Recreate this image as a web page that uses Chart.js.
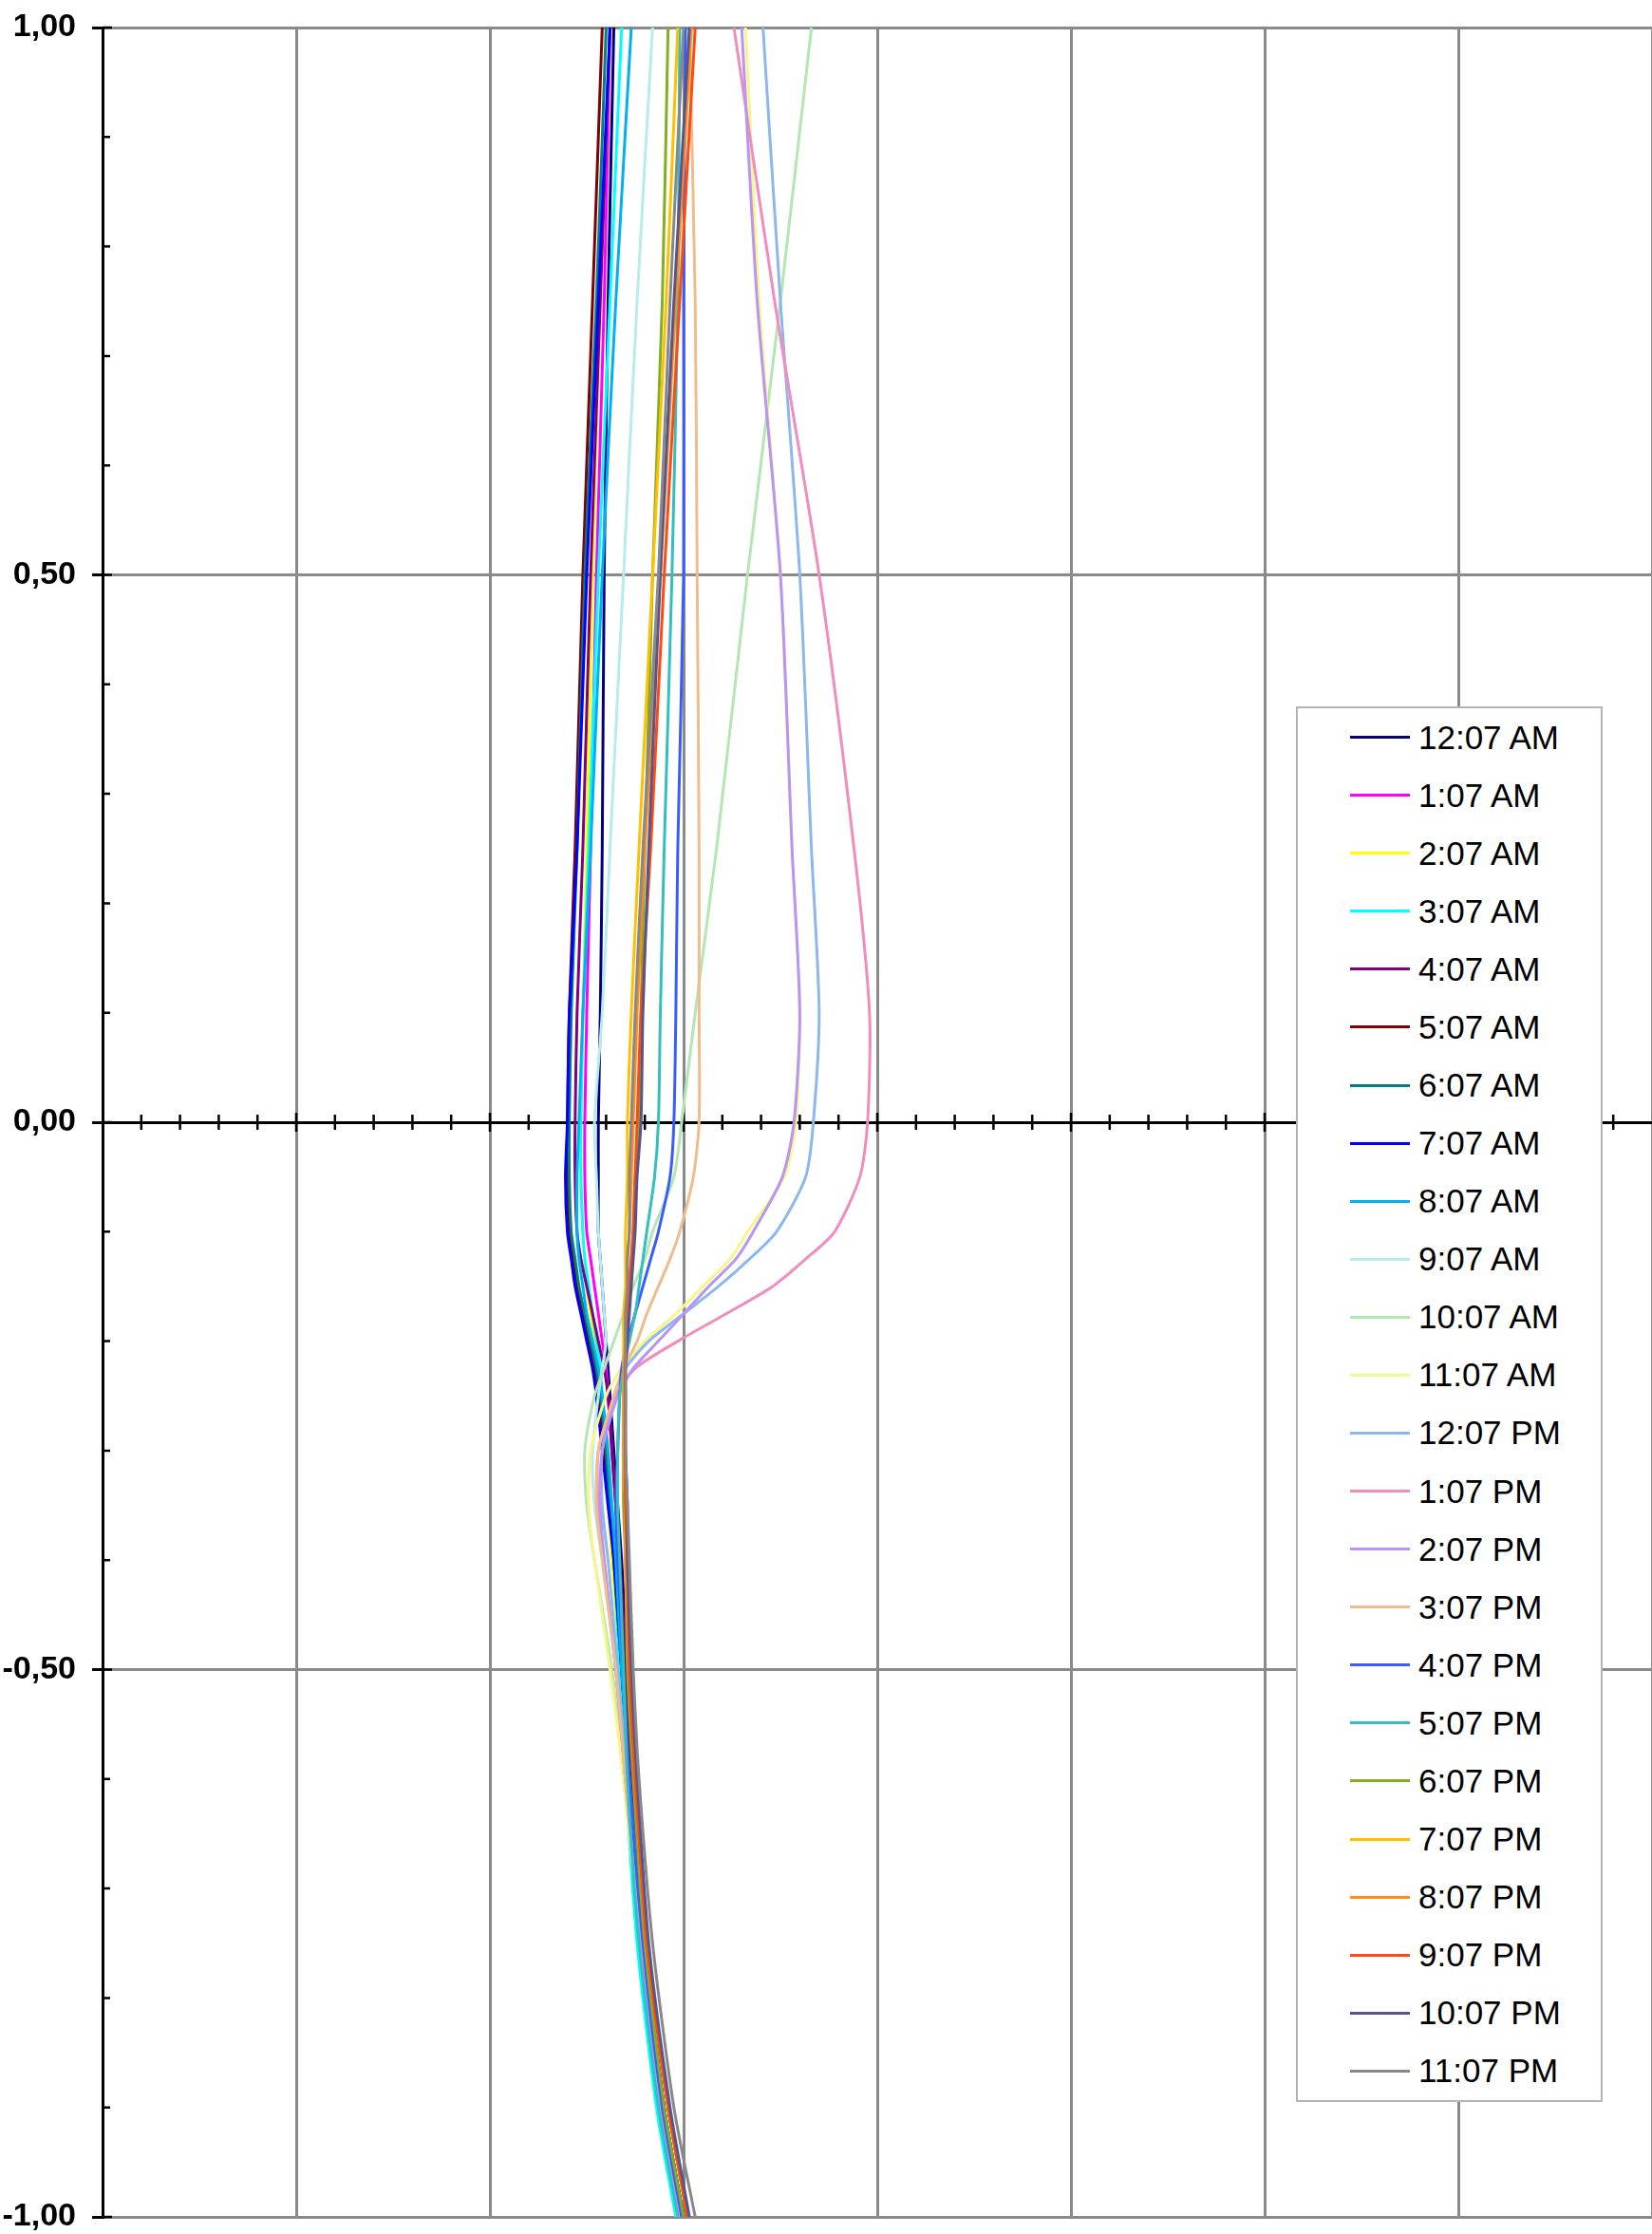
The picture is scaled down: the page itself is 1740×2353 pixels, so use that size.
<!DOCTYPE html>
<html>
<head>
<meta charset="utf-8">
<script src="https://cdn.jsdelivr.net/npm/chart.js@4.4.1/dist/chart.umd.min.js"></script>
<style>
  html, body { margin: 0; padding: 0; background: #fff; }
  #wrap { position: relative; width: 1740px; height: 2353px; }
  #legend {
    position: absolute; left: 1365px; top: 744px;
    width: 319px; height: 1466px;
    background: #fff; border: 2px solid #b4b4b4;
    font-family: "Liberation Sans", Arial, sans-serif; font-size: 35px; color: #000;
  }
  .row { height: 61.08px; display: flex; align-items: center; }
  .swatch { margin-left: 55px; width: 63px; height: 3px; margin-right: 9px; }
</style>
</head>
<body>
<div id="wrap">
  <canvas id="chart" width="1740" height="2353"></canvas>
  <div id="legend"></div>
</div>
<script>
// --- Data (x, one grid step = 1) ---
const yLevels = [1, 0.75, 0.5, 0.25, 0.1, 0, -0.05, -0.1, -0.125, -0.15, -0.175, -0.2, -0.225, -0.25, -0.3, -0.35, -0.4, -0.5, -0.6, -0.75, -0.9, -1];

const am1207 = [2.64, 2.61, 2.59, 2.58, 2.57, 2.56, 2.56, 2.56, 2.57, 2.58, 2.59, 2.60, 2.61, 2.62, 2.64, 2.66, 2.68, 2.71, 2.74, 2.80, 2.90, 3.00];
const am0107 = [2.62, 2.59, 2.55, 2.52, 2.50, 2.49, 2.49, 2.50, 2.52, 2.54, 2.56, 2.58, 2.60, 2.61, 2.63, 2.65, 2.67, 2.70, 2.73, 2.79, 2.89, 2.99];
const am0207 = [2.62, 2.57, 2.53, 2.50, 2.48, 2.47, 2.47, 2.48, 2.49, 2.50, 2.52, 2.54, 2.56, 2.57, 2.59, 2.61, 2.63, 2.67, 2.71, 2.78, 2.88, 2.98];
const am0307 = [2.68, 2.62, 2.56, 2.51, 2.48, 2.47, 2.47, 2.48, 2.49, 2.51, 2.53, 2.55, 2.57, 2.58, 2.60, 2.62, 2.64, 2.67, 2.70, 2.76, 2.86, 2.96];
const am0407 = [2.62, 2.57, 2.52, 2.48, 2.45, 2.44, 2.44, 2.45, 2.47, 2.50, 2.53, 2.56, 2.59, 2.61, 2.63, 2.65, 2.67, 2.70, 2.73, 2.80, 2.90, 3.00];
const am0507 = [2.58, 2.53, 2.48, 2.44, 2.41, 2.40, 2.40, 2.41, 2.43, 2.45, 2.48, 2.51, 2.54, 2.56, 2.59, 2.62, 2.65, 2.69, 2.72, 2.79, 2.89, 2.99];
const am0607 = [2.60, 2.55, 2.49, 2.45, 2.42, 2.41, 2.41, 2.42, 2.44, 2.46, 2.49, 2.52, 2.55, 2.57, 2.60, 2.62, 2.64, 2.68, 2.72, 2.79, 2.89, 2.99];
const am0707 = [2.62, 2.56, 2.50, 2.45, 2.41, 2.40, 2.39, 2.40, 2.42, 2.44, 2.47, 2.50, 2.53, 2.55, 2.58, 2.61, 2.64, 2.68, 2.72, 2.79, 2.89, 2.99];
const am0807 = [2.73, 2.65, 2.58, 2.52, 2.48, 2.46, 2.45, 2.45, 2.46, 2.48, 2.50, 2.53, 2.56, 2.58, 2.61, 2.63, 2.65, 2.68, 2.72, 2.79, 2.89, 2.99];
const am0907 = [2.84, 2.76, 2.69, 2.62, 2.58, 2.54, 2.55, 2.56, 2.57, 2.58, 2.59, 2.60, 2.58, 2.56, 2.53, 2.54, 2.58, 2.65, 2.70, 2.78, 2.88, 2.98];
const am1007 = [3.66, 3.50, 3.33, 3.17, 3.06, 2.99, 2.95, 2.84, 2.80, 2.74, 2.69, 2.64, 2.59, 2.54, 2.49, 2.50, 2.54, 2.63, 2.69, 2.78, 2.88, 2.98];
const am1107 = [3.32, 3.39, 3.50, 3.56, 3.60, 3.58, 3.52, 3.33, 3.24, 3.10, 2.96, 2.80, 2.68, 2.60, 2.52, 2.51, 2.54, 2.62, 2.69, 2.78, 2.88, 2.97];
const pm1207 = [3.41, 3.50, 3.60, 3.66, 3.70, 3.67, 3.63, 3.48, 3.34, 3.18, 3.00, 2.82, 2.70, 2.64, 2.58, 2.58, 2.61, 2.66, 2.71, 2.79, 2.89, 2.99];
const pm0107 = [3.26, 3.47, 3.70, 3.88, 3.96, 3.95, 3.91, 3.78, 3.63, 3.46, 3.22, 2.97, 2.75, 2.65, 2.56, 2.56, 2.59, 2.65, 2.70, 2.78, 2.88, 2.98];
const pm0207 = [3.30, 3.38, 3.50, 3.56, 3.60, 3.57, 3.51, 3.36, 3.27, 3.13, 3.00, 2.87, 2.74, 2.66, 2.58, 2.57, 2.59, 2.65, 2.70, 2.78, 2.88, 2.98];
const pm0307 = [3.03, 3.06, 3.07, 3.08, 3.08, 3.08, 3.05, 2.98, 2.93, 2.87, 2.81, 2.76, 2.69, 2.64, 2.56, 2.55, 2.58, 2.65, 2.70, 2.79, 2.89, 2.99];
const pm0407 = [3.01, 3.00, 3.00, 2.97, 2.96, 2.95, 2.93, 2.87, 2.83, 2.79, 2.75, 2.71, 2.68, 2.67, 2.66, 2.65, 2.66, 2.69, 2.72, 2.79, 2.89, 2.99];
const pm0507 = [2.98, 2.97, 2.94, 2.90, 2.88, 2.87, 2.85, 2.81, 2.79, 2.77, 2.75, 2.72, 2.69, 2.67, 2.66, 2.66, 2.67, 2.69, 2.71, 2.77, 2.87, 2.97];
const pm0607 = [2.92, 2.89, 2.84, 2.80, 2.78, 2.77, 2.75, 2.74, 2.73, 2.72, 2.71, 2.70, 2.69, 2.69, 2.69, 2.69, 2.70, 2.71, 2.74, 2.80, 2.90, 3.00];
const pm0707 = [2.97, 2.91, 2.84, 2.77, 2.73, 2.71, 2.71, 2.70, 2.70, 2.70, 2.69, 2.69, 2.69, 2.69, 2.69, 2.70, 2.70, 2.72, 2.75, 2.81, 2.92, 3.02];
const pm0807 = [3.04, 2.96, 2.88, 2.80, 2.76, 2.74, 2.73, 2.72, 2.71, 2.71, 2.70, 2.70, 2.69, 2.69, 2.69, 2.70, 2.70, 2.72, 2.75, 2.81, 2.92, 3.02];
const pm0907 = [3.06, 2.98, 2.90, 2.83, 2.78, 2.76, 2.75, 2.74, 2.73, 2.72, 2.71, 2.71, 2.70, 2.70, 2.70, 2.70, 2.71, 2.72, 2.75, 2.81, 2.92, 3.02];
const pm1007 = [3.03, 2.95, 2.88, 2.82, 2.79, 2.78, 2.76, 2.75, 2.74, 2.73, 2.72, 2.71, 2.70, 2.70, 2.70, 2.71, 2.71, 2.73, 2.76, 2.82, 2.93, 3.03];
const pm1107 = [3.00, 2.93, 2.87, 2.79, 2.75, 2.73, 2.72, 2.72, 2.71, 2.71, 2.70, 2.70, 2.70, 2.70, 2.70, 2.71, 2.72, 2.74, 2.77, 2.84, 2.95, 3.06];

const seriesLabels = ["12:07 AM", "1:07 AM", "2:07 AM", "3:07 AM", "4:07 AM", "5:07 AM", "6:07 AM", "7:07 AM",
  "8:07 AM", "9:07 AM", "10:07 AM", "11:07 AM", "12:07 PM", "1:07 PM", "2:07 PM", "3:07 PM",
  "4:07 PM", "5:07 PM", "6:07 PM", "7:07 PM", "8:07 PM", "9:07 PM", "10:07 PM", "11:07 PM"];
const seriesX = [am1207, am0107, am0207, am0307, am0407, am0507, am0607, am0707,
  am0807, am0907, am1007, am1107, pm1207, pm0107, pm0207, pm0307,
  pm0407, pm0507, pm0607, pm0707, pm0807, pm0907, pm1007, pm1107];
const seriesColors = ["#000080", "#ff00ff", "#ffff00", "#00ffff", "#800080", "#800000", "#008080", "#0000ff",
  "#00b0f0", "#b8ecec", "#b4e6b4", "#f6f68a", "#8cb8ec", "#f08cc0", "#b994f4", "#f0bc8c",
  "#3a5cff", "#33bfbf", "#80b020", "#ffc000", "#ff8c1a", "#ff4a10", "#555590", "#888888"];

const yTickValues = [-1, -0.5, 0, 0.5, 1];
const yTickLabels = ["-1,00", "-0,50", "0,00", "0,50", "1,00"];

// --- Minor tick marks inside the plot ---
const minorTicks = {
  id: 'minorTicks',
  beforeDatasetsDraw(chart) {
    const { ctx, scales: { x, y } } = chart;
    const y0 = y.getPixelForValue(0), x0 = x.getPixelForValue(0);
    ctx.save();
    ctx.strokeStyle = '#000';
    ctx.lineWidth = 2.5;
    ctx.beginPath();
    for (let i = 1; i < 40; i++) {
      const px = x.getPixelForValue(i * 0.2);
      const len = i % 5 ? 8 : 10;
      ctx.moveTo(px, y0 - len); ctx.lineTo(px, y0 + len);
    }
    for (let i = -10; i <= 10; i++) {
      const py = y.getPixelForValue(i / 10);
      ctx.moveTo(x0, py); ctx.lineTo(x0 + (i % 5 ? 8 : 10), py);
    }
    ctx.stroke();
    ctx.restore();
  }
};

const datasets = seriesX.map((xs, i) => ({
  label: seriesLabels[i],
  data: yLevels.map((yv, j) => ({ x: xs[j], y: yv })),
  borderColor: seriesColors[i],
  backgroundColor: seriesColors[i],
  borderWidth: 3,
  pointRadius: 0,
  showLine: true,
  tension: 0.25,
  order: seriesX.length - i
}));

const chart = new Chart(document.getElementById('chart'), {
  type: 'scatter',
  data: { datasets },
  options: {
    responsive: false,
    animation: false,
    layout: { padding: { top: 29, bottom: 18, left: 0, right: 0 } },
    plugins: { legend: { display: false }, tooltip: { enabled: false } },
    scales: {
      x: {
        type: 'linear', min: 0, max: 8,
        position: { y: 0 },
        ticks: { display: false, stepSize: 1 },
        grid: { color: '#8a8a8a', lineWidth: 3, drawTicks: false },
        border: { display: true, color: '#000', width: 3 }
      },
      y: {
        type: 'linear', min: -1, max: 1,
        afterBuildTicks: s => { s.ticks = yTickValues.map(v => ({ value: v })); },
        ticks: {
          color: '#000', padding: 17,
          font: { family: '"Liberation Sans", Arial, sans-serif', size: 34, weight: 'bold', lineHeight: 1 },
          callback: (v) => yTickLabels[yTickValues.indexOf(v)]
        },
        grid: {
          color: c => (c.tick && c.tick.value === 0) ? 'rgba(0,0,0,0)' : '#8a8a8a',
          lineWidth: 3, tickLength: 11, tickColor: '#000', tickWidth: 3
        },
        border: { color: '#000', width: 3 },
        afterFit: s => { s.width = 108; s.paddingTop = 0; s.paddingBottom = 0; }
      }
    }
  },
  plugins: [minorTicks]
});

// --- Legend box drawn over the plot ---
const legendEl = document.getElementById('legend');
chart.data.datasets.forEach(ds => {
  const row = document.createElement('div');
  row.className = 'row';
  row.innerHTML = `<span class="swatch" style="background:${ds.borderColor}"></span><span>${ds.label}</span>`;
  legendEl.appendChild(row);
});
</script>
</body>
</html>
